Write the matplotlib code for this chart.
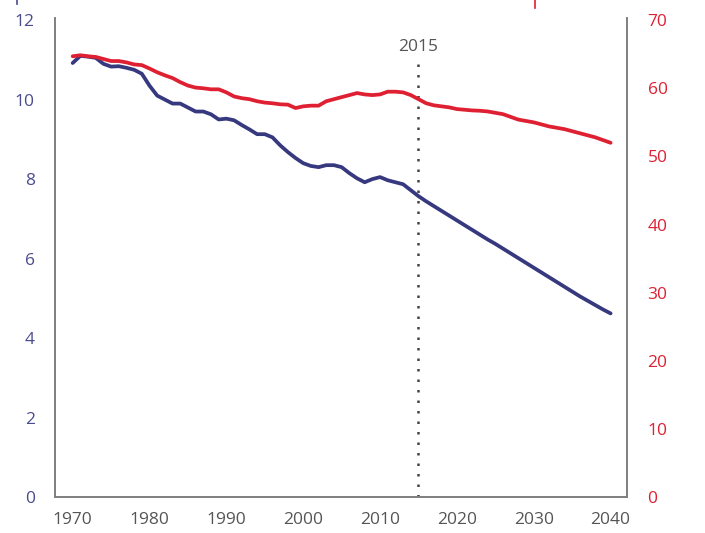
import numpy as np
import matplotlib.pyplot as plt
from matplotlib.lines import Line2D

plt.rcParams['font.family'] = ['Open Sans', 'DejaVu Sans']

years = list(range(1970, 2041))

# left axis series (blue)
blue = [10.92, 11.1, 11.08, 11.05, 10.9, 10.83, 10.84, 10.8, 10.75, 10.65,
        10.35, 10.1, 10.0, 9.9, 9.9, 9.8, 9.7, 9.7, 9.63, 9.5,
        9.52, 9.48, 9.36, 9.25, 9.13, 9.13, 9.05, 8.85, 8.68, 8.53,
        8.4, 8.33, 8.3, 8.35, 8.35, 8.3, 8.15, 8.02, 7.92, 8.0,
        8.05, 7.97, 7.92, 7.87, 7.72, 7.57, 7.44, 7.32, 7.2, 7.08,
        6.96, 6.84, 6.72, 6.6, 6.48, 6.37, 6.25, 6.13, 6.01, 5.89,
        5.77, 5.65, 5.53, 5.41, 5.29, 5.17, 5.05, 4.94, 4.83, 4.72,
        4.62]

# right axis series (red)
red = [64.7, 64.85, 64.7, 64.6, 64.3, 64.0, 64.0, 63.8, 63.5, 63.4,
       62.9, 62.35, 61.9, 61.5, 60.9, 60.4, 60.1, 60.0, 59.85, 59.85,
       59.4, 58.8, 58.55, 58.4, 58.1, 57.9, 57.8, 57.65, 57.6, 57.1,
       57.35, 57.45, 57.45, 58.1, 58.4, 58.7, 59.0, 59.3, 59.1, 59.0,
       59.1, 59.5, 59.5, 59.4, 59.0, 58.4, 57.8, 57.5, 57.35, 57.2,
       56.95, 56.85, 56.75, 56.7, 56.6, 56.4, 56.2, 55.8, 55.4, 55.2,
       55.0, 54.7, 54.4, 54.2, 54.0, 53.7, 53.4, 53.1, 52.8, 52.4,
       52.0]

xticks = [1970, 1980, 1990, 2000, 2010, 2020, 2030, 2040]
marker_year = 2015

c_blue = '#37397f'
c_red = '#df2032'
c_grey = '#7f7f7f'

fig = plt.figure(figsize=(7.05, 5.33), dpi=100)
ax = fig.add_axes([0.078, 0.0675, 0.811, 0.8985])
ax2 = ax.twinx()

ax.plot(years, blue, color=c_blue, lw=2.7, solid_capstyle='round', zorder=3)
ax2.plot(years, red, color=c_red, lw=2.7, solid_capstyle='round', zorder=3)

ax.set_xlim(1967.7, 2042.1)
ax.set_ylim(0, 12.05)
ax2.set_ylim(0, 70.3)
ax.set_xticks(xticks)
ax.set_yticks(range(0, 13, 2))
ax2.set_yticks(range(0, 71, 10))

ax.tick_params(axis='x', length=0, pad=11, labelsize=12.5, labelcolor='#555555')
ax.tick_params(axis='y', length=0, pad=14.5, labelsize=12.5, labelcolor='#4b4b8f')
ax2.tick_params(axis='y', length=0, pad=15, labelsize=12.5, labelcolor=c_red)

for a in (ax, ax2):
    a.spines['top'].set_visible(False)
    for s in ('left', 'right', 'bottom'):
        a.spines[s].set_color(c_grey)
        a.spines[s].set_linewidth(1.2)

ax.vlines(marker_year, 0, 11.0, colors='#444444', linestyles=(0, (1, 3.2)), lw=1.8, zorder=2)
ax.text(marker_year, 11.12, str(marker_year), ha='center', va='bottom',
        fontsize=12.5, color='#555555')

# cut-off fragments of the axis titles at the top edge
fig.add_artist(Line2D([17 / 705, 17 / 705], [1.0, 1 - 4 / 533], color='#4b4b8f', lw=1.2))
fig.add_artist(Line2D([535 / 705, 535 / 705], [1.0, 1 - 8 / 533], color=c_red, lw=1.2))

fig.savefig('out.png', dpi=100)
